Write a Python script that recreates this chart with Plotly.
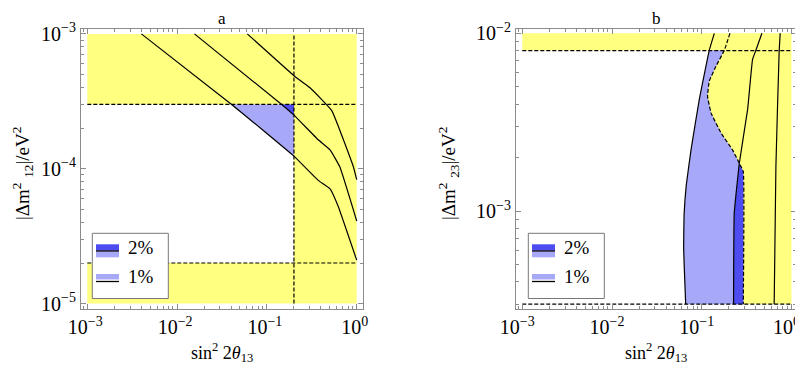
import plotly.graph_objects as go

# the page body keeps its 8px margin, so the figure is drawn 8px in from the window corner
OFF = 8
W, H = 803 - OFF, 366 - OFF

# ---- panel a : sin^2 2theta13 vs |dm^2_12| ----
a_xlim = [1e-3, 1.0]
a_ylim = [1e-5, 1e-3]
a_cut_x = 0.2          # vertical dashed bound
a_cut_y = [2e-5, 3e-4]  # horizontal dashed bounds

a_c1_x = [0.004, 0.0405, 0.2, 0.373, 0.505, 0.62, 1.0]
a_c1_y = [1e-3, 3.0e-4, 1.24e-4, 8.2e-5, 7.1e-5, 5.3e-5, 2.1e-5]
a_c2_x = [0.0156, 0.146, 0.2, 0.373, 0.505, 0.65, 1.0]
a_c2_y = [1e-3, 3.0e-4, 2.5e-4, 1.64e-4, 1.38e-4, 1.03e-4, 4.1e-5]
a_c3_x = [0.0605, 0.2, 0.30, 0.527, 0.92, 1.0]
a_c3_y = [1e-3, 4.9e-4, 4.0e-4, 2.7e-4, 1.03e-4, 8.3e-5]

# ---- panel b : sin^2 2theta13 vs |dm^2_23| ----
b_xlim = [1e-3, 1.0]
b_ylim = [3e-4, 1e-2]
b_band = 8e-3
b_meet = 1.86e-3   # where solid curve 2 meets the dashed boundary

b_c1_x = [0.138, 0.121, 0.0938, 0.0759, 0.0672, 0.0635, 0.0628, 0.0645, 0.0662]
b_c1_y = [1e-2, 8e-3, 4.24e-3, 2.21e-3, 1.4e-3, 9.5e-4, 6.2e-4, 4.2e-4, 3e-4]
b_d_x = [0.206, 0.178, 0.144, 0.121, 0.116, 0.127, 0.164, 0.220, 0.262, 0.29, 0.29]
b_d_y = [1e-2, 8e-3, 6.53e-3, 5.37e-3, 4.43e-3, 3.56e-3, 2.75e-3, 2.21e-3, 1.86e-3, 1.67e-3, 3e-4]
b_c2_x = [0.468, 0.40, 0.368, 0.324, 0.262, 0.230, 0.226]
b_c2_y = [1e-2, 8e-3, 7.13e-3, 3.72e-3, 1.86e-3, 9.7e-4, 3e-4]
b_c3_x = [0.748, 0.729, 0.67, 0.641]
b_c3_y = [1e-2, 8e-3, 1.78e-3, 3e-4]

tick_vals_x = [1e-3, 1e-2, 1e-1, 1]
tick_text_x = ["10<sup>−3</sup>", "10<sup>−2</sup>", "10<sup>−1</sup>", "10<sup>0</sup>"]
tick_vals_ya = [1e-5, 1e-4, 1e-3]
tick_text_ya = ["10<sup>−5</sup>", "10<sup>−4</sup>", "10<sup>−3</sup>"]
tick_vals_yb = [1e-3, 1e-2]
tick_text_yb = ["10<sup>−3</sup>", "10<sup>−2</sup>"]

YEL = "#ffff80"
LBLUE = "#a8a8f8"
DBLUE = "#4c4cf0"
FRAME = "#8c8c8c"
FONT = "Liberation Serif, Times New Roman, DejaVu Serif, serif"


def below(xs, ys, ymax, xmax=None):
    pts = [(x, y) for x, y in zip(xs, ys)
           if y <= ymax * 1.0001 and (xmax is None or x <= xmax * 1.0001)]
    return [p[0] for p in pts], [p[1] for p in pts]


def fill(fig, xs, ys, color, xa, ya):
    fig.add_trace(go.Scatter(x=xs, y=ys, fill="toself", fillcolor=color, mode="none",
                             xaxis=xa, yaxis=ya, showlegend=False, hoverinfo="skip"))


def line(fig, xs, ys, xa, ya, dash="solid"):
    fig.add_trace(go.Scatter(x=xs, y=ys, mode="lines", xaxis=xa, yaxis=ya,
                             line=dict(color="black", width=1.2, dash=dash, shape="spline", smoothing=0.3),
                             showlegend=False, hoverinfo="skip"))


fig = go.Figure()
DASH = "4px,2px"

# panel a
x0, x1 = a_xlim
y0, y1 = a_ylim
fill(fig, [x0, x1, x1, x0, x0, a_cut_x, a_cut_x, x0],
     [y0, y0, y1, y1, a_cut_y[1], a_cut_y[1], a_cut_y[0], a_cut_y[0]], YEL, "x", "y")
lx, ly = below(a_c1_x, a_c1_y, a_cut_y[1], a_cut_x)
fill(fig, lx + [a_cut_x], ly + [a_cut_y[1]], LBLUE, "x", "y")
dx, dy = below(a_c2_x, a_c2_y, a_cut_y[1], a_cut_x)
fill(fig, dx + [a_cut_x], dy + [a_cut_y[1]], DBLUE, "x", "y")
for yc in a_cut_y:
    line(fig, [x0, x1], [yc, yc], "x", "y", DASH)
line(fig, [a_cut_x, a_cut_x], [y0, y1], "x", "y", DASH)
for cx, cy in [(a_c1_x, a_c1_y), (a_c2_x, a_c2_y), (a_c3_x, a_c3_y)]:
    line(fig, cx, cy, "x", "y")

# panel b
x0, x1 = b_xlim
y0, y1 = b_ylim
fill(fig, [x0, x1, x1, x0], [b_band, b_band, y1, y1], YEL, "x2", "y2")
ddx, ddy = below(b_d_x, b_d_y, b_band)
fill(fig, ddx + [x1, x1], ddy + [y0, b_band], YEL, "x2", "y2")
c1x, c1y = below(b_c1_x, b_c1_y, b_band)
fill(fig, c1x + ddx[::-1], c1y + ddy[::-1], LBLUE, "x2", "y2")
c2x, c2y = below(b_c2_x, b_c2_y, b_meet)
mdx, mdy = below(b_d_x, b_d_y, b_meet)
fill(fig, c2x + mdx[::-1], c2y + mdy[::-1], DBLUE, "x2", "y2")
for yc in [b_band, y0]:
    line(fig, [x0, x1], [yc, yc], "x2", "y2", DASH)
line(fig, b_d_x, b_d_y, "x2", "y2", DASH)
for cx, cy in [(b_c1_x, b_c1_y), (b_c2_x, b_c2_y), (b_c3_x, b_c3_y)]:
    line(fig, cx, cy, "x2", "y2")


def minor_vals(e0, e1):
    return [k * 10.0 ** e for e in range(e0, e1) for k in range(2, 10)]


def px(x):
    return (x - OFF) / W


def py(y):
    return 1 - (y - OFF) / H


def axis(dom, rng, tv, tt, mv, anchor, shift=0):
    return dict(type="log", domain=dom, range=rng, anchor=anchor,
                showline=True, linecolor=FRAME, linewidth=1, mirror="allticks",
                ticks="inside", ticklen=5, tickcolor=FRAME, tickwidth=1,
                tickmode="array", tickvals=tv, ticktext=tt, ticklabeloverflow="allow",
                ticklabelshift=shift,
                minor=dict(tickmode="array", tickvals=mv, ticks="inside", ticklen=3,
                           tickcolor=FRAME, tickwidth=1, showgrid=False),
                showgrid=False, zeroline=False, automargin=False,
                tickfont=dict(family=FONT, size=20, color="black"))


ydom = [py(309), py(28.5)]
fig.update_layout(
    width=W, height=H, margin=dict(l=0, r=0, t=0, b=0),
    paper_bgcolor="white", plot_bgcolor="white",
    xaxis=axis([px(81), px(363)], [-3.07, 0.07], tick_vals_x, tick_text_x, minor_vals(-4, 1), "y", -2),
    yaxis=axis(ydom, [-5.04, -2.96], tick_vals_ya, tick_text_ya, minor_vals(-6, -2), "x"),
    xaxis2=axis([px(516), px(796)], [-3.07, 0.05], tick_vals_x, tick_text_x, minor_vals(-4, 1), "y2", -5),
    yaxis2=axis(ydom, [-3.55, -1.973], tick_vals_yb, tick_text_yb, minor_vals(-4, -1), "x2"),
)

shapes = []
ann = []


def text(t, x, y, size, xanchor="center", angle=0, yanchor="middle"):
    ann.append(dict(text=t, x=px(x), y=py(y), xref="paper", yref="paper", showarrow=False,
                    xanchor=xanchor, yanchor=yanchor, textangle=angle, borderpad=0,
                    font=dict(family=FONT, size=size, color="black")))


def rect(xa, xb, ya, yb, color, edge=None):
    shapes.append(dict(type="rect", xref="paper", yref="paper", x0=px(xa), x1=px(xb),
                       y0=py(yb), y1=py(ya), fillcolor=color,
                       line=dict(color=edge or color, width=1 if edge else 0)))


def hline(xa, xb, y):
    shapes.append(dict(type="line", xref="paper", yref="paper", x0=px(xa), x1=px(xb),
                       y0=py(y), y1=py(y), line=dict(color="black", width=1.3)))


for off, name, cx in [(0, "a", 222), (436, "b", 656)]:
    text(name, cx, OFF, 17, yanchor="top")
    text("sin<sup>2</sup> 2<i>θ</i><sub>13</sub>", cx, 352, 18)
    rect(92.3 + off, 168.3 + off, 233.3, 298.5, "white", "#777777")
    rect(96 + off, 119 + off, 244.3, 250.7, DBLUE)
    rect(96 + off, 119 + off, 251.5, 257.3, LBLUE)
    hline(96 + off, 119 + off, 251)
    rect(96 + off, 119 + off, 274, 279.5, LBLUE)
    hline(96 + off, 119 + off, 281.5)
    text("2%", 126.5 + off, 247, 19, "left")
    text("1%", 126.5 + off, 276, 19, "left")

text("|Δm<sup>2</sup> <sub>12</sub>|/eV<sup>2</sup>", 22, 174, 19, angle=-90)
text("|Δm<sup>2</sup> <sub>23</sub>|/eV<sup>2</sup>", 448, 174, 19, angle=-90)

fig.update_layout(shapes=shapes, annotations=ann)
fig.write_html("out.html")
